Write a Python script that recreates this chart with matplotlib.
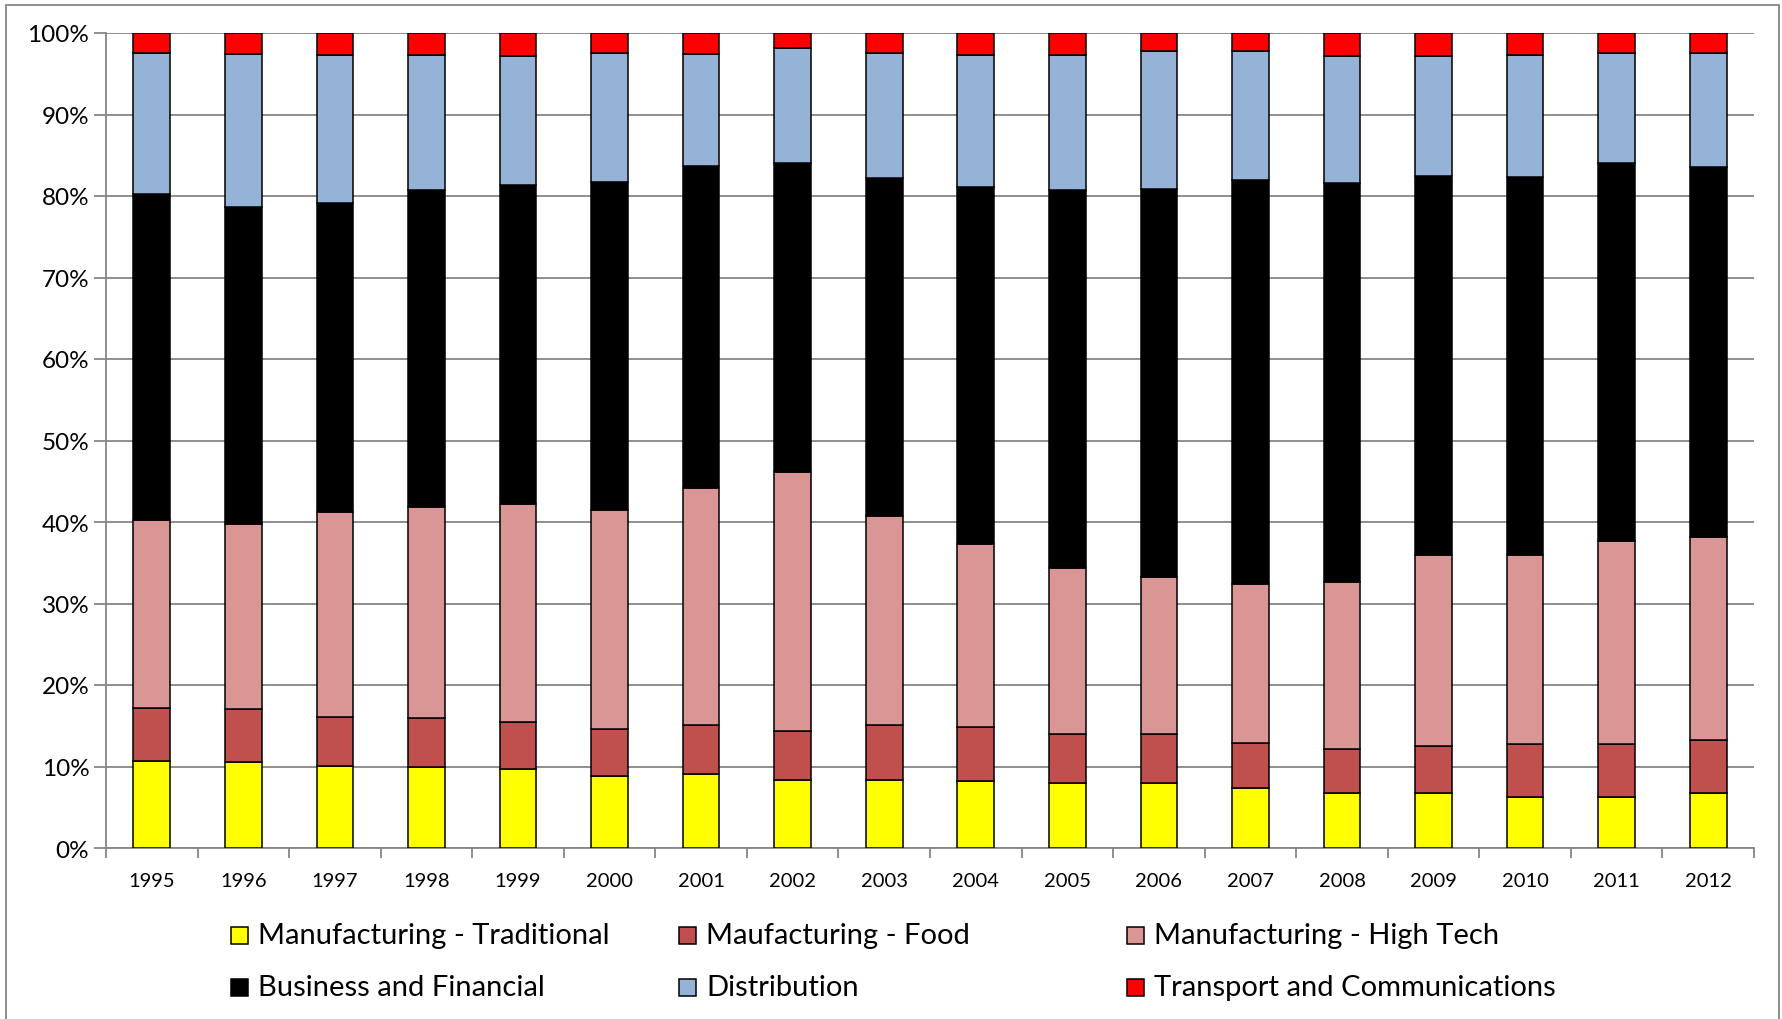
import numpy as np
import matplotlib
matplotlib.use("Agg")
import matplotlib.pyplot as plt
from matplotlib.patches import Rectangle

plt.rcParams['font.family'] = ['Lato', 'DejaVu Sans']

years = [str(y) for y in range(1995, 2013)]

# sector shares per year, in %
traditional = [10.7, 10.6, 10.1, 9.9, 9.7, 8.8, 9.1, 8.3, 8.3, 8.2, 8.0, 8.0, 7.4, 6.7, 6.7, 6.3, 6.3, 6.7]
food = [6.5, 6.4, 6.0, 6.0, 5.8, 5.8, 6.0, 6.1, 6.8, 6.7, 6.0, 6.0, 5.5, 5.4, 5.8, 6.4, 6.4, 6.6]
high_tech = [23.0, 22.7, 25.1, 25.9, 26.7, 26.9, 29.1, 31.7, 25.6, 22.4, 20.4, 19.3, 19.5, 20.5, 23.5, 23.3, 25.0, 24.8]
business = [40.0, 38.9, 38.0, 38.9, 39.1, 40.2, 39.5, 37.9, 41.5, 43.8, 46.3, 47.6, 49.6, 49.0, 46.4, 46.3, 46.3, 45.5]
distribution = [17.3, 18.8, 18.1, 16.6, 15.9, 15.8, 13.7, 14.1, 15.4, 16.2, 16.6, 16.9, 15.8, 15.6, 14.8, 15.0, 13.5, 13.9]
transport = [2.5, 2.6, 2.7, 2.7, 2.8, 2.5, 2.6, 1.9, 2.4, 2.7, 2.7, 2.2, 2.2, 2.8, 2.8, 2.7, 2.5, 2.5]

series = [
    ("Manufacturing - Traditional", traditional, "#FFFF00"),
    ("Maufacturing - Food", food, "#C0504D"),
    ("Manufacturing - High Tech", high_tech, "#D99694"),
    ("Business and Financial", business, "#000000"),
    ("Distribution", distribution, "#95B3D7"),
    ("Transport and Communications", transport, "#FF0000"),
]

W, H = 1783, 1020
fig = plt.figure(figsize=(W / 100, H / 100), dpi=100)
left, right, top, bottom = 106, 1754, 34, 849
ax = fig.add_axes([left / W, 1 - bottom / H, (right - left) / W, (bottom - top) / H])

vals = np.array([s[1] for s in series], dtype=float)
vals = vals / vals.sum(axis=0) * 100
x = np.arange(len(years))
base = np.zeros(len(years))
for (name, _, color), v in zip(series, vals):
    ax.bar(x, v, bottom=base, width=0.4, color=color, edgecolor='black', linewidth=1.1, zorder=3)
    base += v

grid_col = '#868686'
ax.set_xlim(-0.5, len(years) - 0.5)
ax.set_ylim(0, 100)
ax.set_yticks(np.arange(0, 101, 10))
ax.set_yticklabels([f"{v}%" for v in range(0, 101, 10)], fontsize=17.5)
ax.yaxis.grid(True, color=grid_col, linewidth=1.3, zorder=0)
ax.set_axisbelow(True)
ax.tick_params(axis='y', direction='out', length=9, color=grid_col, width=1.3, pad=3)

ax.set_xticks(x)
ax.set_xticklabels(years, fontsize=14.5)
ax.set_xticks(np.arange(-0.5, len(years), 1), minor=True)
ax.tick_params(axis='x', which='major', length=0, pad=17)
ax.tick_params(axis='x', which='minor', direction='out', length=7, color=grid_col, width=1.3)

for side in ('top', 'right'):
    ax.spines[side].set_visible(False)
for side in ('left', 'bottom'):
    ax.spines[side].set_color(grid_col)
    ax.spines[side].set_linewidth(1.3)

# legend laid out in three equal columns, two rows
col_x = [231, 679, 1127]
row_y = [936, 988]
box = 17
for i, (name, _, color) in enumerate(series):
    cx = col_x[i % 3]
    cy = row_y[i // 3]
    fig.add_artist(Rectangle(((cx) / W, 1 - (cy + box / 2) / H), box / W, box / H,
                             transform=fig.transFigure, facecolor=color,
                             edgecolor='black', linewidth=1.1))
    fig.text((cx + 27) / W, 1 - cy / H, name, fontsize=21, va='center', ha='left')

# outer chart border
fig.add_artist(Rectangle((6 / W, -0.01), (1779 - 6) / W, 1.01 - 6 / H,
                         transform=fig.transFigure, fill=False,
                         edgecolor='#868686', linewidth=1.3))

fig.savefig("out.png", dpi=100)
